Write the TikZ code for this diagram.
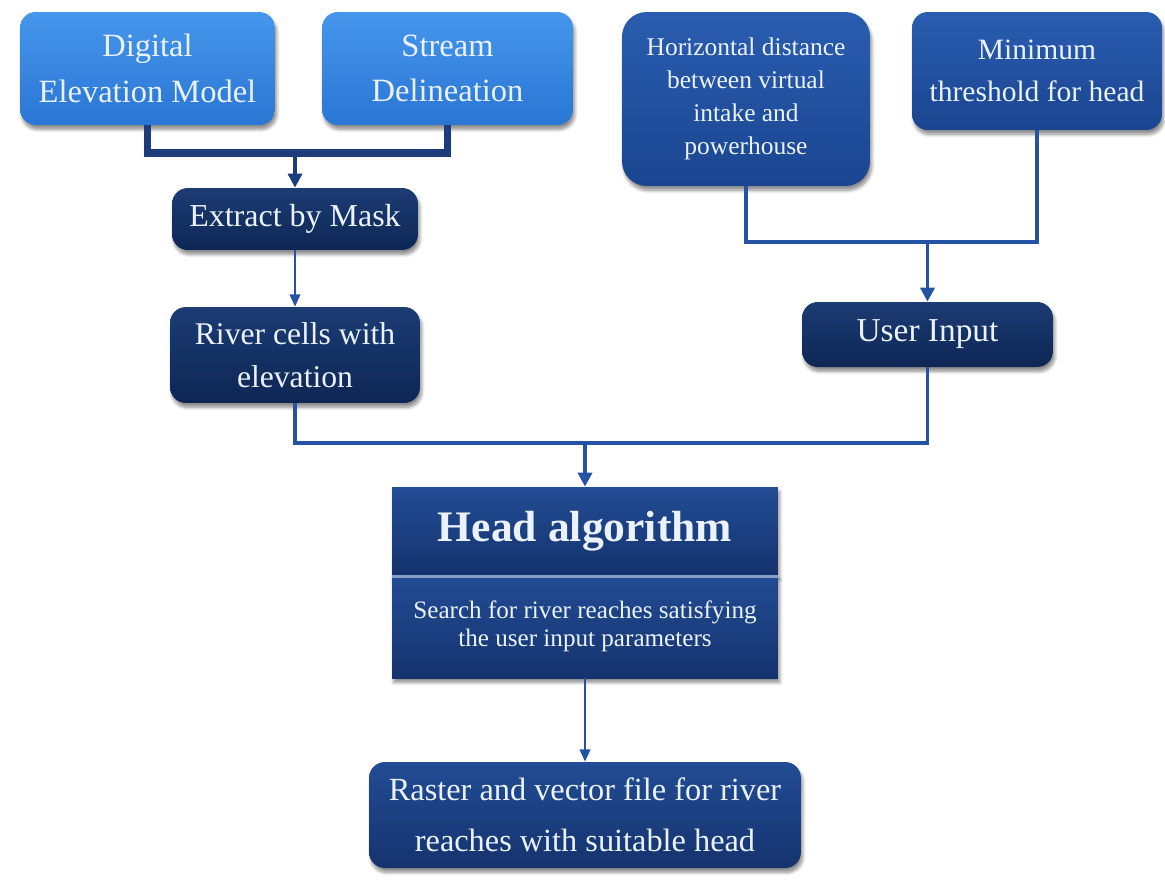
\documentclass[tikz,border=0pt]{standalone}
\usepackage{fontspec}
\setmainfont{Liberation Serif}
\usetikzlibrary{arrows.meta,shadows.blur}
\definecolor{lighttop}{HTML}{4696EC}
\definecolor{lightbot}{HTML}{2A76D4}
\definecolor{midtop}{HTML}{2A5DB0}
\definecolor{midbot}{HTML}{1A4590}
\definecolor{darktop}{HTML}{1C3C74}
\definecolor{darkbot}{HTML}{0D2654}
\definecolor{headtop}{HTML}{224C94}
\definecolor{headbot}{HTML}{15336E}
\definecolor{boxtext}{HTML}{EAF2FF}
\definecolor{linkblue}{HTML}{2452A4}
\definecolor{linknavy}{HTML}{1D3C7C}

\begin{document}
\begin{tikzpicture}[x=0.02cm, y=-0.02cm,
  box/.style = {rounded corners=9pt, text=boxtext, align=center, inner sep=2pt,
    blur shadow={shadow xshift=1pt, shadow yshift=-2.5pt, shadow opacity=45, shadow blur steps=6}},
  light/.style = {box, top color=lighttop, bottom color=lightbot},
  mid/.style = {box, top color=midtop, bottom color=midbot},
  dark/.style = {box, top color=darktop, bottom color=darkbot},
  head/.style = {box, rounded corners=0pt, top color=headtop, bottom color=headbot},
  link/.style = {draw=linkblue, line width=2.2pt},
  arr/.style = {link, -{Triangle[length=8pt, width=8pt]}},
  thin/.style = {draw=linkblue, line width=1.2pt, -{Triangle[length=7pt, width=6pt]}}]
\useasboundingbox (0,0) rectangle (1165,879);

\node[light, minimum width=5.1cm, minimum height=2.26cm, font=\fontsize{18.5}{26}\selectfont] (1) at (147.5,68.5) {Digital\\Elevation Model};
\node[light, minimum width=5.02cm, minimum height=2.26cm, font=\fontsize{18.5}{26}\selectfont] (2) at (447.5,68.5) {Stream\\Delineation};
\node[mid, rounded corners=14pt, minimum width=4.96cm, minimum height=3.48cm, font=\fontsize{14.5}{18.7}\selectfont] (3) at (746,99) {Horizontal distance\\between virtual\\intake and\\powerhouse};
\node[mid, minimum width=5cm, minimum height=2.36cm, font=\fontsize{16.8}{24}\selectfont] (4) at (1037,71) {Minimum\\threshold for head};
\node[dark, minimum width=4.92cm, minimum height=1.24cm, font=\fontsize{18.2}{24}\selectfont] (5) at (295,219) {Extract by Mask};
\node[dark, minimum width=5cm, minimum height=1.92cm, font=\fontsize{18}{24.5}\selectfont] (6) at (295,355) {River cells with\\elevation};
\node[dark, minimum width=5.02cm, minimum height=1.3cm, font=\fontsize{19}{24}\selectfont] (7) at (927.5,334.5) {User Input};
\node[head, minimum width=7.72cm, minimum height=1.76cm, font=\fontsize{24.8}{30}\selectfont\bfseries] (8) at (585,531) {Head algorithm};
\node[head, minimum width=7.72cm, minimum height=2.06cm, font=\fontsize{14.3}{16}\selectfont] (9) at (585,626.5) {Search for river reaches satisfying\\the user input parameters};
\node[dark, top color=headtop, bottom color=headbot, minimum width=8.64cm, minimum height=2.12cm, font=\fontsize{18.4}{29}\selectfont] (10) at (585,815) {Raster and vector file for river\\reaches with suitable head};

\draw[white!45!headtop, line width=1.4pt] ([yshift=-1pt]9.north west) -- ([yshift=-1pt]9.north east);

\coordinate (j1) at (295,153);
\coordinate (j2) at (927.5,242);
\coordinate (j3) at (585,443);

\draw[link, draw=linknavy, line width=4pt] (1.south) |- (j1) -| (2.south);
\draw[arr, draw=linknavy, fill=linknavy, line width=2.4pt] (j1) -- (5.north);
\draw[link] (3.south) |- (j2) -| (4.south);
\draw[arr, fill=linkblue] (j2) -- (7.north);
\draw[thin, fill=linkblue] (5.south) -- (6.north);
\draw[link] (6.south) |- (j3) -| (7.south);
\draw[arr, fill=linkblue] (j3) -- (8.north);
\draw[thin, fill=linkblue] (9.south) -- (10.north);

\end{tikzpicture}
\end{document}
